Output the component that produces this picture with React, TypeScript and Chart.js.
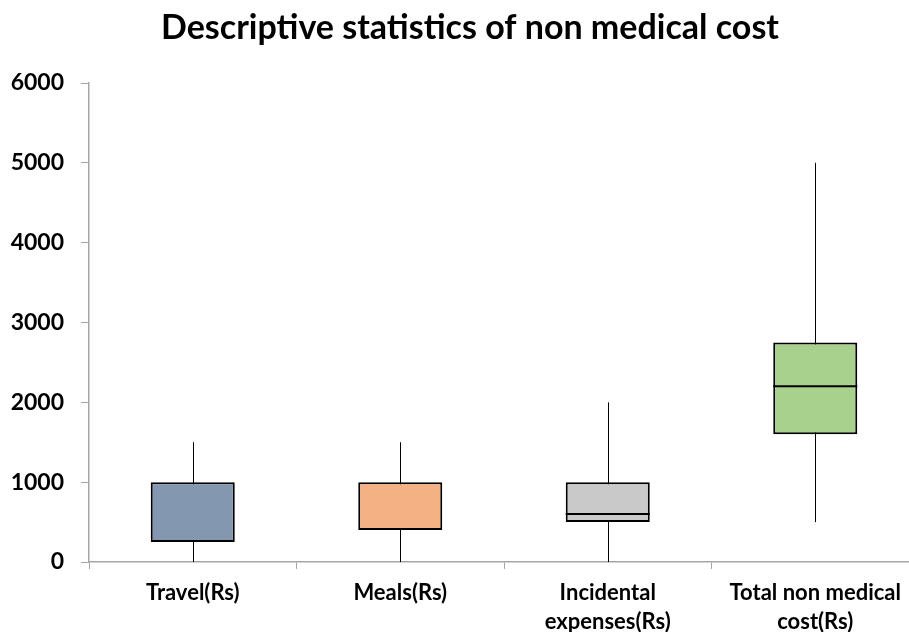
import React, { useEffect, useRef } from "react";
import { Chart, registerables } from "chart.js";

Chart.register(...registerables);

const categories: (string | string[])[] = [
  "Travel(Rs)",
  "Meals(Rs)",
  ["Incidental", "expenses(Rs)"],
  ["Total non medical", "cost(Rs)"],
];
const minValues = [0, 0, 0, 500];
const q1Values = [250, 400, 500, 1600];
const medianValues = [1000, 1000, 600, 2200];
const q3Values = [1000, 1000, 1000, 2750];
const maxValues = [1500, 1500, 2000, 5000];
const boxColors = ["#8497B0", "#F4B183", "#C9C9C9", "#A9D18E"];
const yTicks = [0, 1000, 2000, 3000, 4000, 5000, 6000];
const chartTitle = "Descriptive statistics of non medical cost";

const FONT = "Lato, 'DejaVu Sans', sans-serif";

const boxPlotPlugin = {
  id: "boxPlotExtras",
  beforeDatasetsDraw(chart: any) {
    const { ctx, scales } = chart;
    const meta = chart.getDatasetMeta(0);
    ctx.save();
    ctx.strokeStyle = "#000000";
    ctx.lineWidth = 1;
    meta.data.forEach((bar: any, i: number) => {
      const x = Math.round(bar.x) + 0.5;
      ctx.beginPath();
      ctx.moveTo(x, scales.y.getPixelForValue(minValues[i]));
      ctx.lineTo(x, scales.y.getPixelForValue(maxValues[i]));
      ctx.stroke();
    });
    ctx.restore();
  },
  afterDatasetsDraw(chart: any) {
    const { ctx, scales } = chart;
    const meta = chart.getDatasetMeta(0);
    ctx.save();
    ctx.strokeStyle = "#000000";
    ctx.lineWidth = 2;
    meta.data.forEach((bar: any, i: number) => {
      if (medianValues[i] === q3Values[i] || medianValues[i] === q1Values[i]) return;
      const half = bar.width / 2;
      const y = scales.y.getPixelForValue(medianValues[i]);
      ctx.beginPath();
      ctx.moveTo(bar.x - half, y);
      ctx.lineTo(bar.x + half, y);
      ctx.stroke();
    });
    ctx.restore();
  },
  afterDraw(chart: any) {
    const { ctx } = chart;
    ctx.save();
    ctx.fillStyle = "#000000";
    ctx.font = `bold 34px ${FONT}`;
    ctx.textAlign = "center";
    ctx.textBaseline = "middle";
    ctx.fillText(chartTitle, (chart.chartArea.right + 21) / 2, 28);
    ctx.restore();
  },
};

export default function App() {
  const canvasRef = useRef<HTMLCanvasElement | null>(null);

  useEffect(() => {
    const canvas = canvasRef.current;
    if (!canvas) return;
    const chart = new Chart(canvas, {
      type: "bar",
      data: {
        labels: categories as any,
        datasets: [
          {
            data: q1Values.map((q1, i) => [q1, q3Values[i]]) as any,
            backgroundColor: boxColors,
            borderColor: "#000000",
            borderWidth: 2,
            borderSkipped: false,
            barPercentage: 0.405,
            categoryPercentage: 1,
          },
        ],
      },
      options: {
        responsive: false,
        animation: false,
        events: [],
        layout: { padding: { left: 0, right: 0, top: 83, bottom: 0 } },
        plugins: {
          legend: { display: false },
          tooltip: { enabled: false },
          title: { display: false },
        },
        scales: {
          x: {
            grid: {
              display: true,
              drawOnChartArea: false,
              color: "#A6A6A6",
              tickLength: 7,
              tickColor: "#A6A6A6",
            },
            border: { display: true, color: "#A6A6A6", width: 1.5 },
            ticks: {
              color: "#000000",
              font: { family: FONT, size: 22, weight: "bold", lineHeight: 1.3 },
              padding: 10,
              maxRotation: 0,
              autoSkip: false,
            },
            afterFit(scale: any) {
              scale.height = 70;
            },
          },
          y: {
            min: 0,
            max: 6000,
            afterBuildTicks(scale: any) {
              scale.ticks = yTicks.map((v) => ({ value: v }));
            },
            grid: {
              display: true,
              drawOnChartArea: false,
              color: "#A6A6A6",
              tickLength: 8,
              tickColor: "#A6A6A6",
            },
            border: { display: true, color: "#A6A6A6", width: 1.5 },
            ticks: {
              color: "#000000",
              font: { family: FONT, size: 23, weight: "bold" },
              padding: 17,
              callback: (v: any) => String(v),
            },
            afterFit(scale: any) {
              scale.width = 89;
            },
          },
        },
      },
      plugins: [boxPlotPlugin],
    });
    return () => chart.destroy();
  }, []);

  return (
    <div style={{ position: "fixed", left: 0, top: 0, width: 919, height: 632, background: "#ffffff" }}>
      <canvas ref={canvasRef} width={919} height={632} />
    </div>
  );
}
